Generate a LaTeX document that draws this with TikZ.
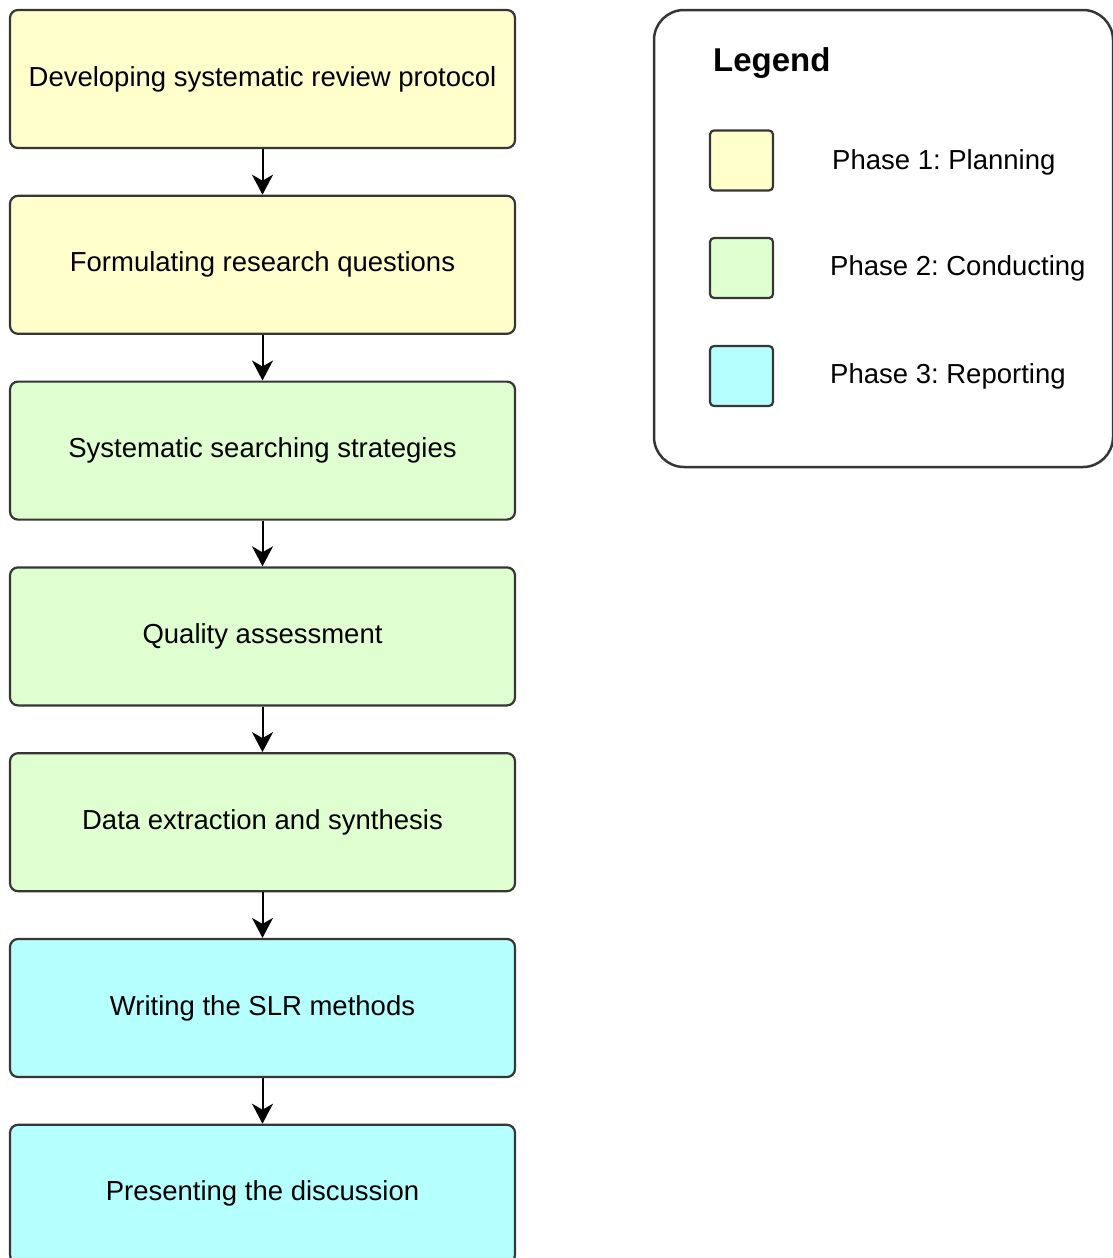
\documentclass[tikz,border=0pt]{standalone}
\usepackage{fontspec}
\setmainfont{Liberation Sans}
\usetikzlibrary{arrows.meta}

\definecolor{planfill}{HTML}{FFFFCC}
\definecolor{condfill}{HTML}{DFFFD0}
\definecolor{repfill}{HTML}{B5FFFF}
\definecolor{edgegray}{HTML}{363636}

\tikzset{
    stepbox/.style={draw=edgegray,line width=2.2pt,rounded corners=8pt,minimum width=505pt,minimum height=138pt,inner sep=0pt,font=\fontsize{27.5}{33}\selectfont},
    swatch/.style={draw=edgegray,line width=2.2pt,rounded corners=4pt,minimum width=63pt,minimum height=60pt,inner sep=0pt},
    swatchlabel/.style={anchor=west,inner sep=0pt,font=\fontsize{27.5}{33}\selectfont},
    flow/.style={draw=black,line width=2pt,-{Stealth[length=20pt,width=21pt,inset=6pt]}}
}

\begin{document}
\frenchspacing
\begin{tikzpicture}[x=1pt,y=-1pt]
    \pgfmathsetmacro{\boxcenterx}{262.5}
    \pgfmathsetmacro{\boxpitch}{185.8}
    \pgfmathsetmacro{\firsty}{79}
    \useasboundingbox (0,0) rectangle (1112,1258);
    % steps of the review
    \node[stepbox,fill=planfill](protocol) at (\boxcenterx,\firsty) {Developing systematic review protocol};
    \node[stepbox,fill=planfill](questions) at (\boxcenterx,\firsty+\boxpitch) {Formulating research questions};
    \node[stepbox,fill=condfill](searching) at (\boxcenterx,\firsty+2*\boxpitch) {Systematic searching strategies};
    \node[stepbox,fill=condfill](quality) at (\boxcenterx,\firsty+3*\boxpitch) {Quality assessment};
    \node[stepbox,fill=condfill](extraction) at (\boxcenterx,\firsty+4*\boxpitch) {Data extraction and synthesis};
    \node[stepbox,fill=repfill](writing) at (\boxcenterx,\firsty+5*\boxpitch) {Writing the SLR methods};
    \node[stepbox,fill=repfill](discussion) at (\boxcenterx,\firsty+6*\boxpitch) {Presenting the discussion};
    \draw[flow] (protocol) -- (questions);
    \draw[flow] (questions) -- (searching);
    \draw[flow] (searching) -- (quality);
    \draw[flow] (quality) -- (extraction);
    \draw[flow] (extraction) -- (writing);
    \draw[flow] (writing) -- (discussion);
    % legend
    \draw[draw=edgegray,line width=2.5pt,rounded corners=30pt] (654,10) rectangle (1113,467);
    \node[anchor=west,inner sep=0pt,font=\fontsize{33}{40}\selectfont\bfseries](legendtitle) at (713,63) {Legend};
    \node[swatch,fill=planfill](planswatch) at (741.5,160.5) {};
    \node[swatch,fill=condfill](condswatch) at (741.5,268) {};
    \node[swatch,fill=repfill](repswatch) at (741.5,376) {};
    \node[swatchlabel](planlabel) at (832,162) {Phase 1: Planning};
    \node[swatchlabel](condlabel) at (830,268) {Phase 2: Conducting};
    \node[swatchlabel](replabel) at (830,376) {Phase 3: Reporting};
\end{tikzpicture}
\end{document}
